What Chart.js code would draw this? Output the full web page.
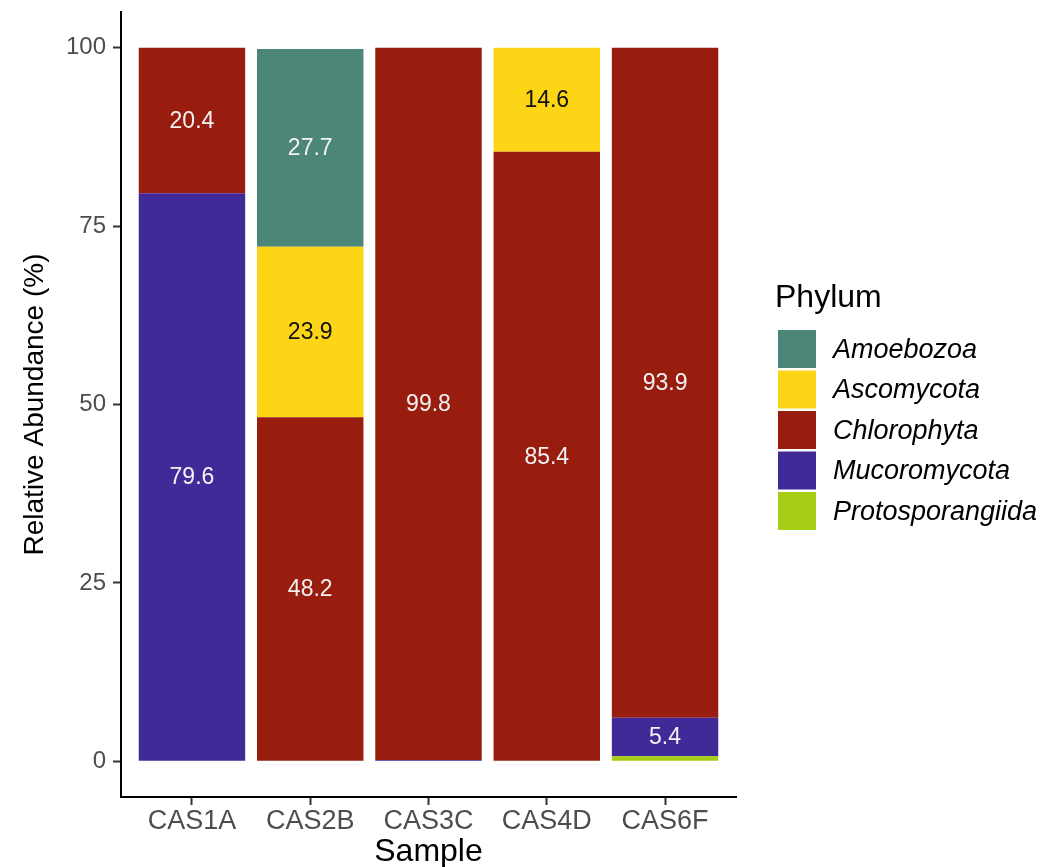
<!DOCTYPE html>
<html>
<head>
<meta charset="utf-8">
<script src="https://cdn.jsdelivr.net/npm/chart.js@4"></script>
<style>
  html, body { margin: 0; padding: 0; background: #fff; }
  #wrap { width: 1047px; height: 867px; }
</style>
</head>
<body>
<div id="wrap"><canvas id="chart" width="1047" height="867"></canvas></div>
<script>
// samples on the x axis
const samples = ["CAS1A", "CAS2B", "CAS3C", "CAS4D", "CAS6F"];
const yTicks = [0, 25, 50, 75, 100];

// relative abundance per phylum (%), one value per sample
const protosporangiida = [0, 0, 0, 0, 0.7];
const mucoromycota = [79.6, 0, 0.2, 0, 5.4];
const chlorophyta = [20.4, 48.2, 99.8, 85.4, 93.9];
const ascomycota = [0, 23.9, 0, 14.6, 0];
const amoebozoa = [0, 27.7, 0, 0, 0];

const FONT = "'Liberation Sans', Arial, sans-serif";

// stacked bottom -> top
const series = [
    { label: "Protosporangiida", values: protosporangiida, color: "#a5ce14", text: "#000" },
    { label: "Mucoromycota", values: mucoromycota, color: "#402a98", text: "#f2f2f2" },
    { label: "Chlorophyta", values: chlorophyta, color: "#981d0f", text: "#f2f2f2" },
    { label: "Ascomycota", values: ascomycota, color: "#fcd516", text: "#111" },
    { label: "Amoebozoa", values: amoebozoa, color: "#4c8679", text: "#f2f2f2" }
];

// value labels in the middle of each segment
const segmentLabels = {
    id: "segmentLabels",
    afterDatasetsDraw(chart) {
        const ctx = chart.ctx;
        ctx.save();
        ctx.font = "23px " + FONT;
        ctx.textAlign = "center";
        ctx.textBaseline = "middle";
        chart.data.datasets.forEach(function(ds, di) {
            const meta = chart.getDatasetMeta(di);
            meta.data.forEach(function(bar, i) {
                const v = ds.data[i].y;
                if (v < 2) return;
                const p = bar.getCenterPoint();
                ctx.fillStyle = series[di].text;
                ctx.fillText(v.toFixed(1), p.x, p.y + 1);
            });
        });
        ctx.restore();
    }
};

// ggplot style legend on the right
const sideLegend = {
    id: "sideLegend",
    afterDraw(chart) {
        const ctx = chart.ctx;
        ctx.save();
        ctx.fillStyle = "#000";
        ctx.textAlign = "left";
        ctx.textBaseline = "middle";
        ctx.font = "32px " + FONT;
        ctx.fillText("Phylum", 775, 298);
        const items = chart.data.datasets.slice().reverse();
        items.forEach(function(ds, i) {
            const y = 330 + i * 40.5;
            ctx.fillStyle = ds.backgroundColor;
            ctx.fillRect(778, y, 38, 38);
            ctx.fillStyle = "#000";
            ctx.font = "italic 27px " + FONT;
            ctx.fillText(ds.label, 833, y + 20);
        });
        ctx.restore();
    }
};

const datasets = series.map(function(s) {
    return {
        label: s.label,
        data: s.values.map(function(v, i) { return { x: i + 1, y: v }; }),
        backgroundColor: s.color,
        borderWidth: 0,
        barPercentage: 0.9,
        categoryPercentage: 1.0
    };
});

new Chart(document.getElementById("chart"), {
    type: "bar",
    data: { datasets: datasets },
    options: {
        responsive: false,
        animation: false,
        layout: { padding: { left: 18, top: 12, right: 311, bottom: 0 } },
        plugins: {
            legend: { display: false },
            tooltip: { enabled: false }
        },
        scales: {
            x: {
                type: "linear",
                stacked: true,
                offset: false,
                min: 0.4,
                max: 5.6,
                afterBuildTicks: function(s) {
                    s.ticks = samples.map(function(c, i) { return { value: i + 1 }; });
                },
                afterFit: function(s) {
                    s.height = 70;
                    s.paddingLeft = 0;
                    s.paddingRight = 0;
                },
                grid: { display: true, offset: false, drawOnChartArea: false, drawTicks: true, tickLength: 8, tickColor: "#333", tickWidth: 2 },
                border: { display: true, color: "#000", width: 2 },
                ticks: {
                    autoSkip: false,
                    maxRotation: 0,
                    padding: 0,
                    color: "#4d4d4d",
                    font: { family: FONT, size: 27 },
                    callback: function(v) { return samples[v - 1]; }
                },
                title: {
                    display: true,
                    text: "Sample",
                    color: "#000",
                    padding: 0,
                    font: { family: FONT, size: 32, lineHeight: 0.95 }
                }
            },
            y: {
                stacked: true,
                min: -5,
                max: 105,
                afterBuildTicks: function(s) {
                    s.ticks = yTicks.map(function(v) { return { value: v }; });
                },
                afterFit: function(s) {
                    s.width = 103;
                    s.paddingTop = 0;
                    s.paddingBottom = 0;
                },
                grid: { display: true, drawOnChartArea: false, drawTicks: true, tickLength: 8, tickColor: "#333", tickWidth: 2 },
                border: { display: true, color: "#000", width: 2 },
                ticks: {
                    padding: 7,
                    color: "#4d4d4d",
                    font: { family: FONT, size: 24 }
                },
                title: {
                    display: true,
                    text: "Relative Abundance (%)",
                    color: "#000",
                    padding: 0,
                    font: { family: FONT, size: 28, lineHeight: 1.2 }
                }
            }
        }
    },
    plugins: [segmentLabels, sideLegend]
});
</script>
</body>
</html>
